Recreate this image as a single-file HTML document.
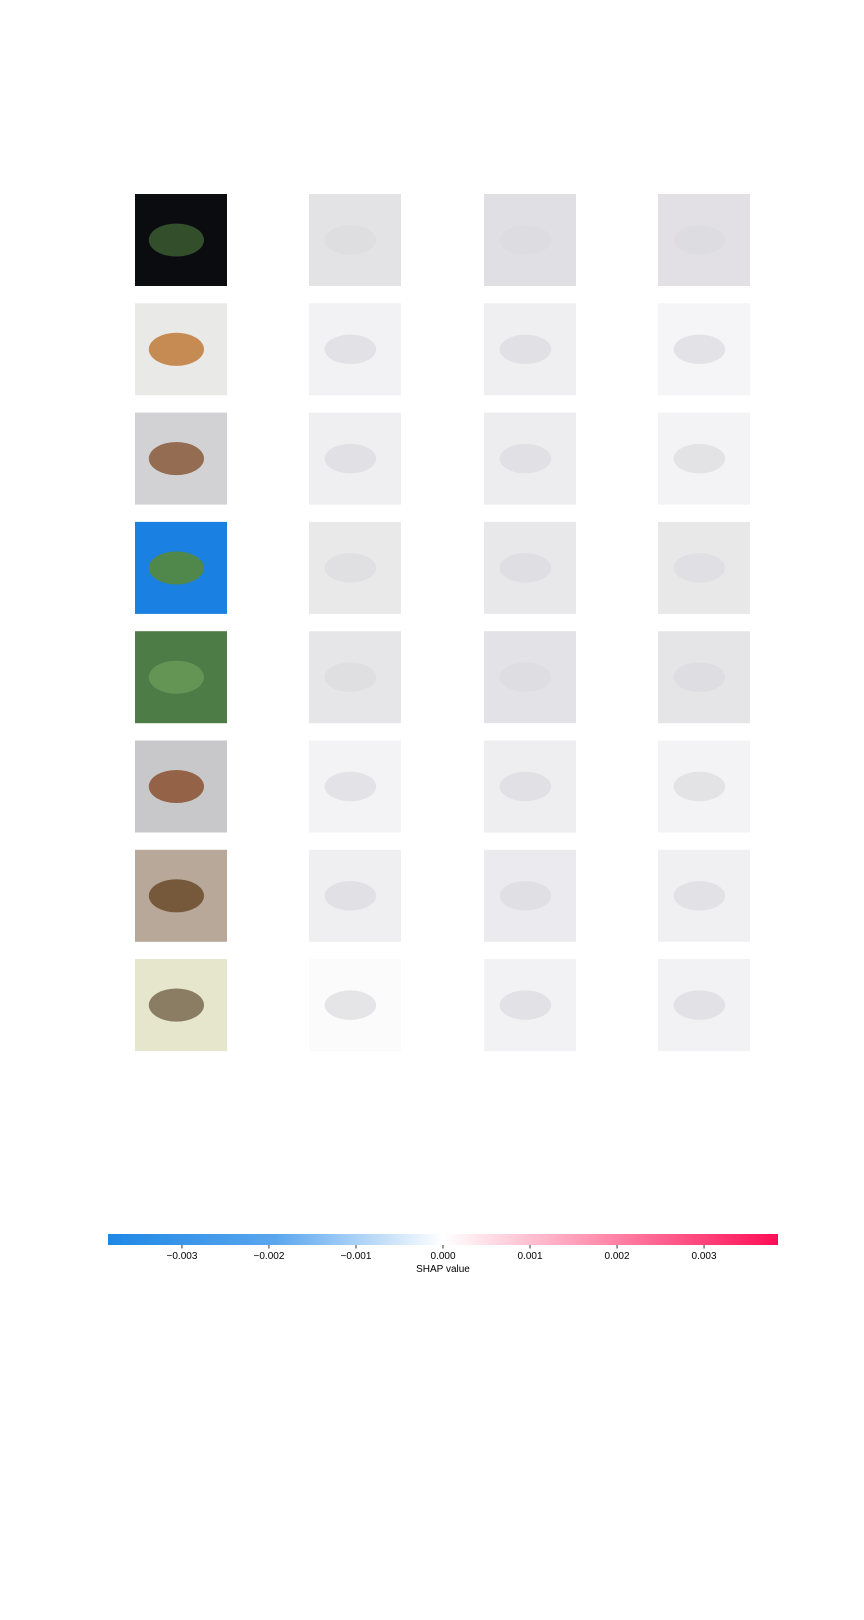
<!DOCTYPE html>
<html><head><meta charset="utf-8"><style>
body{margin:0;background:#fff;width:864px;height:1620px;overflow:hidden;font-family:"Liberation Sans","DejaVu Sans",sans-serif}
svg{display:block}
</style></head><body>
<svg id="chart" width="864" height="1620" viewBox="0 0 864 1620" xmlns="http://www.w3.org/2000/svg">
<defs>
<linearGradient id="cbar" x1="0" x2="1" y1="0" y2="0">
<stop offset="0" stop-color="#1e88e5"/><stop offset="0.25" stop-color="#5aa6ee"/><stop offset="0.5" stop-color="#ffffff"/><stop offset="0.75" stop-color="#ff86a8"/><stop offset="1" stop-color="#ff0d57"/>
</linearGradient>
</defs>
<g id="grid"></g>
<g id="colorbar"></g>
</svg>
<script>
const rowLabels=["row1","row2","row3","row4","row5","row6","row7","row8"];
const thumbColors=["#0b0c10","#e9e9e8","#d2d2d4","#1a80e2","#4e7c46","#c8c8ca","#b8a89a","#e6e6cc"];
const thumbAccents=["#3a5a30","#c07a38","#8a5a3a","#5a8a30","#6a9a58","#8a5030","#6a4a2a","#7a6a50"];
const panelColors=[
 ["#e3e3e5","#e0dfe3","#e2e0e4"],
 ["#f2f1f4","#efeff2","#f5f5f7"],
 ["#efeef1","#edecef","#f3f3f5"],
 ["#e9e9e9","#e8e7e9","#e9e8e9"],
 ["#e6e6e8","#e3e3e7","#e5e4e7"],
 ["#f3f2f4","#eeedf0","#f3f3f5"],
 ["#efeef0","#ebeaee","#f0eff2"],
 ["#fbfbfb","#f2f1f4","#f2f1f4"]];
const tickValues=[-0.003,-0.002,-0.001,0,0.001,0.002,0.003];
const tickLabels=["\u22120.003","\u22120.002","\u22120.001","0.000","0.001","0.002","0.003"];
const vMin=-0.00385, vMax=0.00385;

const NS="http://www.w3.org/2000/svg";
function mk(tag,attrs,parent){const e=document.createElementNS(NS,tag);for(const k in attrs)e.setAttribute(k,attrs[k]);parent.appendChild(e);return e;}
const colX=[135,309,484,658], rowY0=194, rowStep=109.3, S=92;
const grid=document.getElementById('grid');
rowLabels.forEach((r,i)=>{
  const y=rowY0+i*rowStep;
  const t=mk('rect',{x:colX[0],y:y,width:S,height:S,fill:thumbColors[i]},grid);
  
  
  const a=mk('ellipse',{cx:colX[0]+S*0.45,cy:y+S*0.5,rx:S*0.3,ry:S*0.18,fill:thumbAccents[i],opacity:0.85},grid);
  
  
  panelColors[i].forEach((c,j)=>{
    const p=mk('rect',{x:colX[j+1],y:y,width:S,height:S,fill:c},grid);
    
    
    const s=mk('ellipse',{cx:colX[j+1]+S*0.45,cy:y+S*0.5,rx:S*0.28,ry:S*0.16,fill:'#dcdcdf',opacity:0.7},grid);
    
    
  });
});
const cb=document.getElementById('colorbar');
const x0=108,x1=778,cy=1234,ch=11;
function xs(v){return x0+(v-vMin)/(vMax-vMin)*(x1-x0);}
const bar=mk('rect',{x:x0,y:cy,width:x1-x0,height:ch,fill:'url(#cbar)'},cb);


tickValues.forEach((v,i)=>{
  const x=xs(v);
  const tk=mk('line',{x1:x,x2:x,y1:cy+ch,y2:cy+ch+3.5,stroke:'#000','stroke-width':0.8},cb);
  
  
  const tx=mk('text',{x:x,y:1259,'text-anchor':'middle','font-size':10,fill:'#000'},cb);
  tx.textContent=tickLabels[i];
  
  
});
const lab=mk('text',{x:xs(0),y:1272,'text-anchor':'middle','font-size':10,fill:'#000'},cb);
lab.textContent='SHAP value';


</script>
</body></html>
